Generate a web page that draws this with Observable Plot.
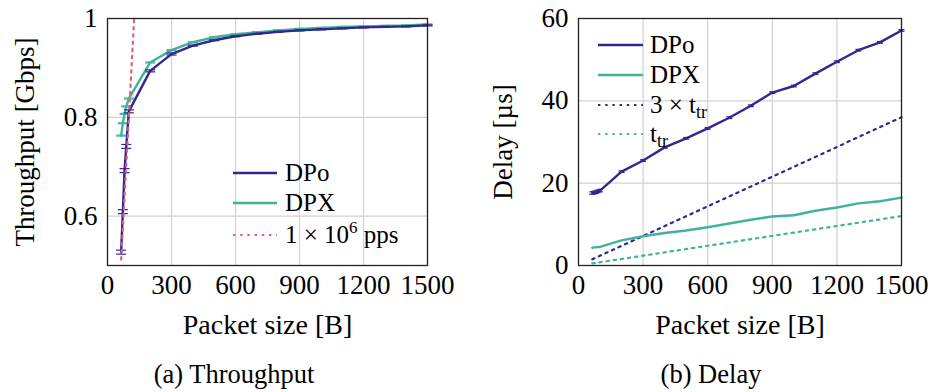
<!DOCTYPE html>
<html>
<head>
<meta charset="utf-8">
<script src="https://cdn.jsdelivr.net/npm/d3@7"></script>
<script src="https://cdn.jsdelivr.net/npm/@observablehq/plot@0.6"></script>
<style>
  html, body { margin: 0; padding: 0; background: #fff; }
  #wrap { position: relative; width: 937px; height: 392px; font-family: "Liberation Serif", "Times New Roman", serif; color: #000; }
  #wrap svg, #wrap svg text, #wrap svg tspan { font-family: "Liberation Serif", "Times New Roman", serif !important; }
  .panel { position: absolute; top: 0; }
  .cap { position: absolute; top: 359px; font-size: 26.5px; line-height: 30px; transform: translateX(-50%); white-space: nowrap; }
</style>
</head>
<body>
<div id="wrap">
  <div id="pa" class="panel" style="left:0px"></div>
  <div id="pb" class="panel" style="left:468px"></div>
  <div class="cap" style="left:234px">(a) Throughput</div>
  <div class="cap" style="left:711px">(b) Delay</div>
</div>
<script>
// ---- data ----
const sizes = [64, 72, 80, 88, 100, 200, 300, 400, 500, 600, 700, 800, 900, 1000, 1100, 1200, 1300, 1400, 1500];
const thrDPo = [0.527, 0.609, 0.692, 0.741, 0.812, 0.894, 0.928, 0.945, 0.956, 0.964, 0.969, 0.973, 0.976, 0.978, 0.980, 0.982, 0.983, 0.984, 0.986];
const thrDPoErr = [0.004, 0.004, 0.004, 0.004, 0.003, 0.002, 0.002, 0.001, 0.001, 0.001, 0.001, 0.001, 0.001, 0.001, 0.001, 0.001, 0.001, 0.001, 0.001];
const thrDPX = [0.763, 0.788, 0.807, 0.822, 0.838, 0.911, 0.936, 0.952, 0.962, 0.968, 0.972, 0.976, 0.979, 0.981, 0.983, 0.984, 0.985, 0.986, 0.988];
const thrDPXErr = [0.001, 0.001, 0.001, 0.001, 0.001, 0.001, 0.001, 0.001, 0.001, 0.001, 0.001, 0.001, 0.001, 0.001, 0.001, 0.001, 0.001, 0.001, 0.001];
const ppsSizes = [64, 125];
const ppsThr = [0.512, 1.0];

const delDPo = [17.6, 17.7, 17.8, 18.0, 18.2, 22.8, 25.5, 28.7, 30.9, 33.3, 35.9, 38.8, 42.0, 43.6, 46.6, 49.5, 52.3, 54.2, 57.1];
const delDPoErr = [0.3, 0.3, 0.3, 0.3, 0.3, 0.2, 0.2, 0.2, 0.2, 0.2, 0.2, 0.2, 0.2, 0.2, 0.2, 0.2, 0.2, 0.2, 0.2];
const delDPX = [4.3, 4.4, 4.4, 4.5, 4.5, 6.1, 7.1, 7.9, 8.5, 9.3, 10.2, 11.1, 11.9, 12.2, 13.3, 14.1, 15.1, 15.6, 16.5];
const ttrSizes = [64, 1500];
const ttr = [0.5, 12.0];
const ttr3 = [1.5, 36.0];

const xTicks = [0, 300, 600, 900, 1200, 1500];
const thrTicks = [0.6, 0.8, 1];
const delTicks = [0, 20, 40, 60];

// ---- styles ----
const cDPo = "#30288f";
const cDPX = "#41b39a";
const cPps = "#e0607a";
const font = "Liberation Serif";
const dotDash = "2.4,4.8";

const capSymbol = { draw(ctx, size) { const r = Math.sqrt(size / Math.PI); ctx.moveTo(-r, 0); ctx.lineTo(r, 0); } };

const thrRows = sizes.map((s, i) => ({ size: s, dpo: thrDPo[i], dpoE: thrDPoErr[i], dpx: thrDPX[i], dpxE: thrDPXErr[i] }));
const ppsRows = ppsSizes.map((s, i) => ({ size: s, v: ppsThr[i] }));
const delRows = sizes.map((s, i) => ({ size: s, dpo: delDPo[i], dpoE: delDPoErr[i], dpx: delDPX[i] }));
const ttrRows = ttrSizes.map((s, i) => ({ size: s, t1: ttr[i], t3: ttr3[i] }));

function errMarks(rows, yk, ek, color, r) {
  return [
    Plot.ruleX(rows, { x: "size", y1: d => d[yk] - d[ek], y2: d => d[yk] + d[ek], stroke: color, strokeWidth: 1.2 }),
    Plot.dot(rows, { x: "size", y: d => d[yk] - d[ek], symbol: capSymbol, r, stroke: color, strokeWidth: 1.2, fill: "none" }),
    Plot.dot(rows, { x: "size", y: d => d[yk] + d[ek], symbol: capSymbol, r, stroke: color, strokeWidth: 1.2, fill: "none" })
  ];
}

function common(width, ml, mr, yDomain, yTicks, ylab, ylabDx) {
  return {
    width, height: 345,
    marginLeft: ml, marginRight: mr, marginTop: 18, marginBottom: 80,
    style: { fontFamily: font, fontSize: "27px", color: "#000", background: "#fff", overflow: "visible" },
    x: { domain: [0, 1500] },
    y: { domain: yDomain },
    pre: [
      Plot.gridX(xTicks, { stroke: "#d2d2d2", strokeOpacity: 1, strokeWidth: 1.2 }),
      Plot.gridY(yTicks, { stroke: "#d2d2d2", strokeOpacity: 1, strokeWidth: 1.2 }),
      Plot.axisX(xTicks, { tickSize: 0, tickPadding: 9, label: null, fontSize: 27, fill: "#000", tickFormat: d => String(d) }),
      Plot.axisY(yTicks, { tickSize: 0, tickPadding: 10, label: null, fontSize: 27, fill: "#000", tickFormat: d => String(d) }),
      Plot.text(["Packet size [B]"], { frameAnchor: "bottom", dy: 60, text: d => d, fontSize: 28, lineAnchor: "middle", textAnchor: "middle" }),
      Plot.text([ylab], { frameAnchor: "left", dx: ylabDx, rotate: -90, text: d => d, fontSize: 27, lineAnchor: "middle", textAnchor: "middle" })
    ]
  };
}

// ---- left: throughput ----
const ca = common(468, 107, 41, [0.5, 1], thrTicks, "Throughput [Gbps]", -82);
const plotA = Plot.plot({
  ...ca,
  marks: [
    ...ca.pre,
    ...errMarks(thrRows, "dpx", "dpxE", cDPX, 5),
    Plot.line(thrRows, { x: "size", y: "dpx", stroke: cDPX, strokeWidth: 2.4 }),
    ...errMarks(thrRows, "dpo", "dpoE", cDPo, 5),
    Plot.line(thrRows, { x: "size", y: "dpo", stroke: cDPo, strokeWidth: 2.4 }),
    Plot.line(ppsRows, { x: "size", y: "v", stroke: cPps, strokeWidth: 2.2, strokeDasharray: dotDash, clip: true }),
    Plot.frame({ stroke: "#222", strokeWidth: 1.3 })
  ]
});
document.getElementById("pa").appendChild(plotA);

// ---- right: delay ----
const cb = common(469, 110, 36, [0, 60], delTicks, "Delay [µs]", -75);
const plotB = Plot.plot({
  ...cb,
  marks: [
    ...cb.pre,
    Plot.line(ttrRows, { x: "size", y: "t1", stroke: cDPX, strokeWidth: 2.2, strokeDasharray: dotDash }),
    Plot.line(ttrRows, { x: "size", y: "t3", stroke: cDPo, strokeWidth: 2.2, strokeDasharray: dotDash }),
    Plot.line(delRows, { x: "size", y: "dpx", stroke: cDPX, strokeWidth: 2.4 }),
    ...errMarks(delRows, "dpo", "dpoE", cDPo, 3),
    Plot.line(delRows, { x: "size", y: "dpo", stroke: cDPo, strokeWidth: 2.4 }),
    Plot.frame({ stroke: "#222", strokeWidth: 1.3 })
  ]
});
document.getElementById("pb").appendChild(plotB);

// ---- legends ----
function legend(svg, x0, x1, tx, items) {
  const g = d3.select(svg).append("g").attr("font-family", font).attr("font-size", 25).attr("text-anchor", "start");
  items.forEach(it => {
    g.append("line").attr("x1", x0).attr("x2", x1).attr("y1", it.y).attr("y2", it.y)
      .attr("stroke", it.color).attr("stroke-width", it.dash ? 2.2 : 2.4)
      .attr("stroke-dasharray", it.dash ? dotDash : null);
    const t = g.append("text").attr("x", tx).attr("y", it.y + 8).attr("text-anchor", "start");
    it.parts.forEach(p => {
      const s = t.append("tspan").text(p.t);
      if (p.sup) s.attr("font-size", 17).attr("dy", -10);
      if (p.sub) s.attr("font-size", 18).attr("dy", 5);
      if (p.reset) s.attr("dy", p.reset);
    });
  });
}
legend(plotA, 233, 277, 285, [
  { y: 173, color: cDPo, parts: [{ t: "DPo" }] },
  { y: 203, color: cDPX, parts: [{ t: "DPX" }] },
  { y: 235, color: cPps, dash: true, parts: [{ t: "1 × 10" }, { t: "6", sup: true }, { t: " pps", reset: 10 }] }
]);
legend(plotB, 130, 175, 182, [
  { y: 45, color: cDPo, parts: [{ t: "DPo" }] },
  { y: 75, color: cDPX, parts: [{ t: "DPX" }] },
  { y: 105, color: cDPo, dash: true, parts: [{ t: "3 × t" }, { t: "tr", sub: true }] },
  { y: 134, color: cDPX, dash: true, parts: [{ t: "t" }, { t: "tr", sub: true }] }
]);
</script>
</body>
</html>
